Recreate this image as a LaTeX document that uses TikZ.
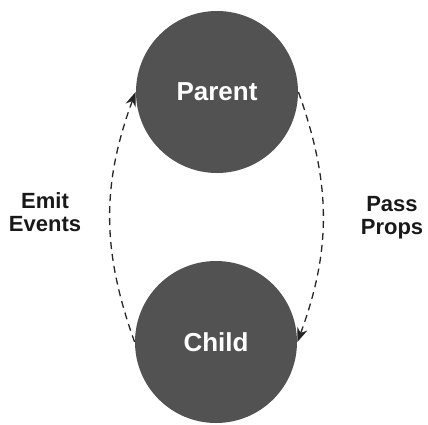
\documentclass[tikz,border=0pt]{standalone}
\usepackage{fontspec}
\setmainfont{Liberation Sans}
\usetikzlibrary{arrows.meta}
\tikzset{>={Stealth[scale=1.2]}}
\tikzset{
  comp/.style={circle,fill=black!68,text=white,font=\bfseries\fontsize{13}{15}\selectfont,minimum size=81pt,inner sep=0pt},
  flow/.style={->,dash pattern=on 3.5pt off 2.5pt,line width=0.65pt,black!85},
  lbl/.style={align=center,font=\bfseries\fontsize{11}{11.5}\selectfont,text=black!90}
}

\begin{document}
\begin{tikzpicture}[x=0.5pt,y=-0.5pt]
  \useasboundingbox (0,0) rectangle (428,424);

  % components
  \node[comp] (parent) at (217,92) {Parent};
  \node[comp] (child) at (216,342) {Child};

  % data flow
  \draw[flow] (child.west) to[bend left=20] (parent.west);
  \draw[flow] (parent.east) to[bend left=20] (child.east);

  % labels
  \node[lbl] (emit) at (45,212) {Emit\\Events};
  \node[lbl] (pass) at (392,218) {Pass\\Props};
\end{tikzpicture}
\end{document}
